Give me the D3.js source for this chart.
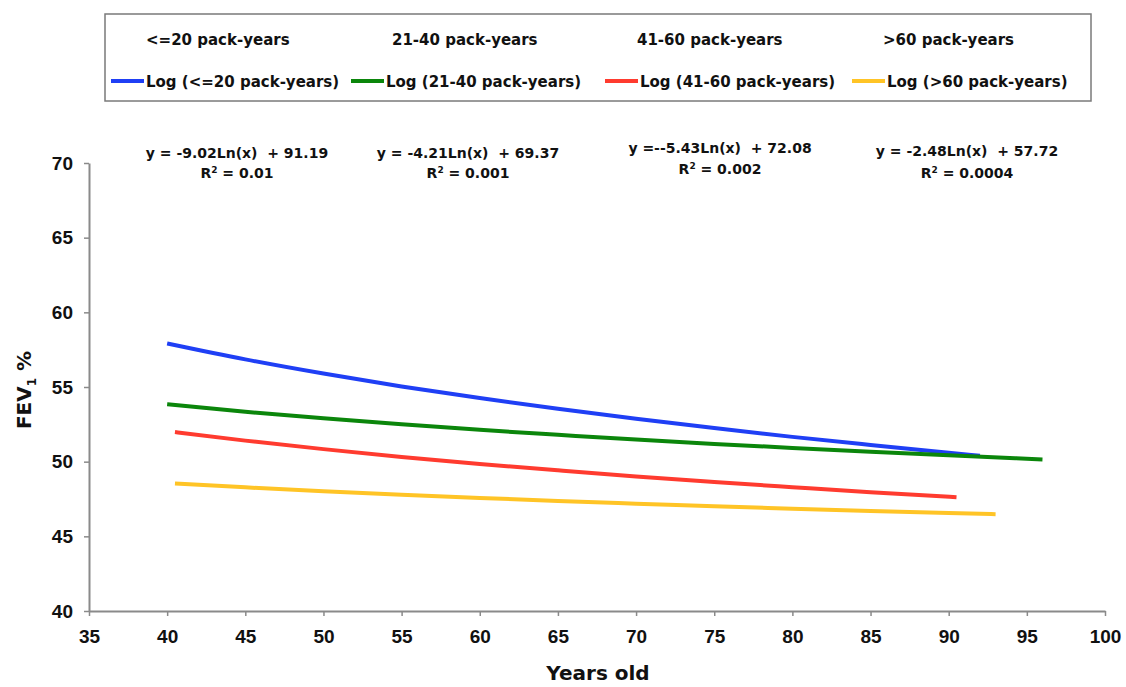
<!DOCTYPE html>
<html>
<head>
<meta charset="utf-8">
<script src="https://cdn.jsdelivr.net/npm/d3@7"></script>
<style>
  body { margin: 0; background: #ffffff; }
  svg { display: block; font-family: "DejaVu Sans", Arial, sans-serif; font-weight: bold; }
</style>
</head>
<body>
<svg id="chart" width="1126" height="687"></svg>
<script>
// Series names and legend labels
const seriesNames = ["<=20 pack-years", "21-40 pack-years", "41-60 pack-years", ">60 pack-years"];
const trendNames = ["Log (<=20 pack-years)", "Log (21-40 pack-years)", "Log (41-60 pack-years)", "Log (>60 pack-years)"];
const seriesColors = ["#1f3ff5", "#0b860b", "#ff3b2f", "#ffc426"];

// Trend line values (age, FEV1 %)
const ages20 = [40, 45, 50, 55, 60, 65, 70, 75, 80, 85, 90, 92];
const fev20 = [57.92, 56.85, 55.90, 55.04, 54.26, 53.54, 52.87, 52.25, 51.66, 51.12, 50.60, 50.40];
const ages40 = [40, 45, 50, 55, 60, 65, 70, 75, 80, 85, 90, 96];
const fev40 = [53.84, 53.34, 52.90, 52.50, 52.13, 51.80, 51.48, 51.19, 50.92, 50.67, 50.43, 50.15];
const ages60 = [40.5, 45, 50, 55, 60, 65, 70, 75, 80, 85, 90.5];
const fev60 = [51.98, 51.41, 50.84, 50.32, 49.85, 49.42, 49.01, 48.64, 48.29, 47.95, 47.62];
const agesOver60 = [40.5, 45, 50, 55, 60, 65, 70, 75, 80, 85, 90, 93];
const fevOver60 = [48.54, 48.28, 48.02, 47.78, 47.57, 47.37, 47.19, 47.01, 46.85, 46.70, 46.56, 46.48];

// Trend line equations shown above the plot
const equations = ["y = -9.02Ln(x)  + 91.19", "y = -4.21Ln(x)  + 69.37", "y =--5.43Ln(x)  + 72.08", "y = -2.48Ln(x)  + 57.72"];
const rSquared = ["0.01", "0.001", "0.002", "0.0004"];

// Axis ticks
const xTicks = [35, 40, 45, 50, 55, 60, 65, 70, 75, 80, 85, 90, 95, 100];
const yTicks = [40, 45, 50, 55, 60, 65, 70];

const series = [
    { ages: ages20, fev: fev20 },
    { ages: ages40, fev: fev40 },
    { ages: ages60, fev: fev60 },
    { ages: agesOver60, fev: fevOver60 }
].map((s, i) => ({
    name: trendNames[i],
    color: seriesColors[i],
    points: s.ages.map((a, j) => ({ age: a, fev: s.fev[j] }))
}));

const svg = d3.select('#chart');

// Plot area
const plot = { left: 89, right: 1105, top: 163, bottom: 611 };

const x = d3.scaleLinear()
    .domain([35, 100])
    .range([plot.left, plot.right]);

const y = d3.scaleLinear()
    .domain([40, 70])
    .range([plot.bottom, plot.top]);

const axisColor = "#8a8a8a";

// X axis
svg.append('g')
    .attr('transform', `translate(0,${plot.bottom})`)
    .call(d3.axisBottom(x).tickValues(xTicks).tickSize(5).tickSizeOuter(0).tickPadding(14));

// Y axis
svg.append('g')
    .attr('transform', `translate(${plot.left},0)`)
    .call(d3.axisLeft(y).tickValues(yTicks).tickSize(5).tickSizeOuter(0).tickPadding(11));

svg.selectAll('.domain')
    .style('stroke', axisColor)
    .style('stroke-width', 2);
svg.selectAll('.tick line')
    .style('stroke', axisColor)
    .style('stroke-width', 1.5);
svg.selectAll('.tick text')
    .style('font-family', '"Liberation Sans", Arial, sans-serif')
    .style('font-weight', 'bold')
    .style('font-size', '19px')
    .style('fill', '#111');

// Trend lines
const line = d3.line()
    .x(d => x(d.age))
    .y(d => y(d.fev))
    .curve(d3.curveMonotoneX);

svg.append('g')
    .selectAll('path')
    .data(series)
    .enter().append('path')
    .attr('fill', 'none')
    .attr('stroke', d => d.color)
    .attr('stroke-width', 4)
    .attr('d', d => line(d.points));

// Equation annotations
const eqPos = [
    { cx: 237, y1: 158, y2: 178 },
    { cx: 468, y1: 158, y2: 178 },
    { cx: 720, y1: 153, y2: 174 },
    { cx: 967, y1: 156, y2: 178 }
];

equations.forEach((eq, i) => {
    svg.append('text')
        .attr('x', eqPos[i].cx)
        .attr('y', eqPos[i].y1)
        .attr('text-anchor', 'middle')
        .style('font-size', '14px')
        .style('fill', '#111')
        .style('white-space', 'pre')
        .text(eq);

    const r = svg.append('text')
        .attr('x', eqPos[i].cx)
        .attr('y', eqPos[i].y2)
        .attr('text-anchor', 'middle')
        .style('font-size', '14px')
        .style('fill', '#111');
    r.append('tspan').text('R');
    r.append('tspan').attr('dy', -5).style('font-size', '9px').text('2');
    r.append('tspan').attr('dy', 5).text(' = ' + rSquared[i]);
});

// Legend box
svg.append('rect')
    .attr('x', 105)
    .attr('y', 14)
    .attr('width', 986)
    .attr('height', 87)
    .attr('fill', '#ffffff')
    .attr('stroke', '#7a7a7a')
    .attr('stroke-width', 1.5);

const row1X = [146, 392, 637, 883];
const row2X = [111, 351, 605, 852];

// Row 1: markerless data series
svg.append('g')
    .selectAll('text')
    .data(seriesNames)
    .enter().append('text')
    .attr('x', (d, i) => row1X[i])
    .attr('y', 45)
    .style('font-size', '15px')
    .style('fill', '#111')
    .text(d => d);

// Row 2: trend lines
const row2 = svg.append('g')
    .selectAll('g')
    .data(series)
    .enter().append('g')
    .attr('transform', (d, i) => `translate(${row2X[i]},81)`);

row2.append('line')
    .attr('x1', 0)
    .attr('x2', 33)
    .attr('stroke', d => d.color)
    .attr('stroke-width', 4);

row2.append('text')
    .attr('x', 35)
    .attr('y', 6)
    .style('font-size', '15px')
    .style('fill', '#111')
    .text(d => d.name);

// Axis titles
const yTitle = svg.append('text')
    .attr('transform', 'translate(31,390) rotate(-90)')
    .attr('text-anchor', 'middle')
    .style('font-size', '20px')
    .style('fill', '#111');
yTitle.append('tspan').text('FEV');
yTitle.append('tspan').attr('dy', 5).style('font-size', '12px').text('1');
yTitle.append('tspan').attr('dy', -5).text(' %');

svg.append('text')
    .attr('x', 598)
    .attr('y', 680)
    .attr('text-anchor', 'middle')
    .style('font-size', '20px')
    .style('fill', '#111')
    .text('Years old');
</script>
</body>
</html>
